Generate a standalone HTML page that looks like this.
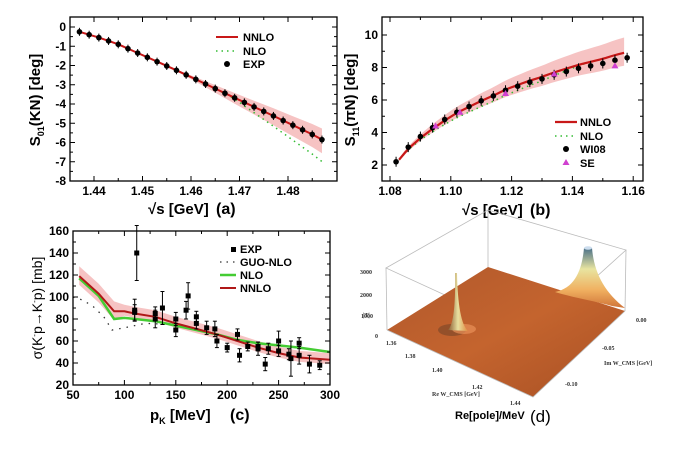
<!DOCTYPE html>
<html><head><meta charset="utf-8"><style>
html,body{margin:0;padding:0;background:#fff;}
svg{display:block;font-family:"Liberation Sans",Arial,sans-serif;font-weight:bold;}
</style></head><body>
<svg id="s" width="674" height="450" viewBox="0 0 674 450" xmlns="http://www.w3.org/2000/svg">
<defs>
<linearGradient id="pl" x1="0" y1="0" x2="1" y2="1">
<stop offset="0" stop-color="#b0582c"/><stop offset="0.5" stop-color="#c4642e"/><stop offset="1" stop-color="#a85024"/>
</linearGradient>
<linearGradient id="pk" x1="0" y1="0" x2="1" y2="0">
<stop offset="0" stop-color="#8a5a30"/><stop offset="0.5" stop-color="#e8e0a0"/><stop offset="1" stop-color="#e08a40"/>
</linearGradient>
<linearGradient id="pk2" x1="0" y1="0" x2="0" y2="1">
<stop offset="0" stop-color="#4a7088"/><stop offset="0.35" stop-color="#e8e4a0"/><stop offset="0.7" stop-color="#f0b060"/><stop offset="1" stop-color="#d07438"/>
</linearGradient>
</defs>
</svg>
<script>
const S=document.getElementById('s');const NS='http://www.w3.org/2000/svg';
function el(t,a,txt){const e=document.createElementNS(NS,t);for(const k in a)e.setAttribute(k,a[k]);if(txt!==undefined)e.textContent=txt;S.appendChild(e);return e;}
function interp(pts,x){for(let i=0;i<pts.length-1;i++){if(x>=pts[i][0]&&x<=pts[i+1][0]){const t=(x-pts[i][0])/(pts[i+1][0]-pts[i][0]);return pts[i][1]+t*(pts[i+1][1]-pts[i][1]);}}return x<pts[0][0]?pts[0][1]:pts[pts.length-1][1];}
function path(pts,fx,fy){return pts.map((p,i)=>(i?'L':'M')+fx(p[0]).toFixed(1)+' '+fy(p[1]).toFixed(1)).join(' ');}
function band(up,lo,fx,fy){let d=path(up,fx,fy);lo.slice().reverse().forEach(p=>d+=' L'+fx(p[0]).toFixed(1)+' '+fy(p[1]).toFixed(1));return d+'Z';}
function axes(L,T,R,B,xt,fx,yt,fy,xminor,yminor){
 el('rect',{x:L,y:T,width:R-L,height:B-T,fill:'none',stroke:'#000','stroke-width':1.3});
 xt.forEach(v=>{const x=fx(v);el('line',{x1:x,y1:B,x2:x,y2:B-5,stroke:'#000'});el('line',{x1:x,y1:T,x2:x,y2:T+5,stroke:'#000'});el('text',{x:x,y:B+14,'font-size':12,'text-anchor':'middle'},v.label||v);});
 xminor.forEach(v=>{const x=fx(v);el('line',{x1:x,y1:B,x2:x,y2:B-3,stroke:'#000'});el('line',{x1:x,y1:T,x2:x,y2:T+3,stroke:'#000'});});
 yt.forEach(v=>{const y=fy(v);el('line',{x1:L,y1:y,x2:L+5,y2:y,stroke:'#000'});el('line',{x1:R,y1:y,x2:R-5,y2:y,stroke:'#000'});el('text',{x:L-4,y:y+4,'font-size':12,'text-anchor':'end'},v);});
 yminor.forEach(v=>{const y=fy(v);el('line',{x1:L,y1:y,x2:L+3,y2:y,stroke:'#000'});el('line',{x1:R,y1:y,x2:R-3,y2:y,stroke:'#000'});});
}
// ---------- Panel a
(function(){
 const fx=v=>94+(v-1.44)*4850, fy=v=>27-v*19.25;
 const c=[[1.437,-0.25],[1.441,-0.55],[1.445,-0.9],[1.449,-1.35],[1.453,-1.8],[1.457,-2.25],[1.461,-2.72],[1.465,-3.2],[1.469,-3.68],[1.473,-4.15],[1.477,-4.62],[1.481,-5.1],[1.485,-5.58],[1.487,-5.85]];
 const up=c.map(p=>[p[0],p[1]+Math.max(0,(p[0]-1.455))*18]);
 const lo=c.map(p=>[p[0],p[1]-Math.max(0,(p[0]-1.455))*22]);
 el('path',{d:band(up,lo,fx,fy),fill:'#f4b8b8',opacity:0.85});
 const nlo=c.map(p=>[p[0],p[1]-Math.max(0,p[0]-1.468)*60]);
 el('path',{d:path(nlo,fx,fy),fill:'none',stroke:'#33bb33','stroke-width':1.5,'stroke-dasharray':'1.5 4'});
 el('path',{d:path(c,fx,fy),fill:'none',stroke:'#c81818','stroke-width':2});
 for(let x=1.437;x<1.4875;x+=0.002){const y=interp(c,x);el('line',{x1:fx(x),y1:fy(y)-4,x2:fx(x),y2:fy(y)+4,stroke:'#000'});el('circle',{cx:fx(x),cy:fy(y),r:2.8,fill:'#000'});}
 axes(70,17,337,181,[1.44,1.45,1.46,1.47,1.48],fx,[0,-1,-2,-3,-4,-5,-6,-7,-8],fy,[1.445,1.455,1.465,1.475,1.485],[-0.5,-1.5,-2.5,-3.5,-4.5,-5.5,-6.5,-7.5]);
 el('line',{x1:216,y1:37,x2:238,y2:37,stroke:'#c81818','stroke-width':2});el('text',{x:243,y:41,'font-size':11},'NNLO');
 el('line',{x1:216,y1:51,x2:238,y2:51,stroke:'#33bb33','stroke-width':1.5,'stroke-dasharray':'1.5 4'});el('text',{x:243,y:55,'font-size':11},'NLO');
 el('circle',{cx:227,cy:64,r:3,fill:'#000'});el('text',{x:243,y:68,'font-size':11},'EXP');
 el('text',{x:148,y:214,'font-size':15},'√s [GeV]');el('text',{x:216,y:214,'font-size':16},'(a)');
 const t=el('text',{x:0,y:0,'font-size':15,'text-anchor':'middle',transform:'translate(40,100) rotate(-90)'});t.innerHTML='S<tspan font-size="9" dy="4">01</tspan><tspan dy="-4">(KN) [deg]</tspan>';
})();
// ---------- Panel b
(function(){
 const fx=v=>390+(v-1.08)*3040, fy=v=>165-(v-2)*16.25;
 const w=[2.2,3.1,3.75,4.3,4.8,5.25,5.6,5.95,6.25,6.6,6.85,7.1,7.3,7.55,7.75,7.95,8.1,8.25,8.45,8.6];
 const wp=w.map((y,i)=>[1.082+i*0.004,y]);
 const c=[],n=[],up=[],lo=[];
 for(let x=1.083;x<=1.1581;x+=0.002){const u=(x-1.083)/0.075;let y=interp(wp,x);y+=0.45*Math.pow(u,1.5)-0.1;c.push([x,y]);n.push([x,y-0.35*Math.sin(Math.PI*Math.min(1,u*1.2))]);up.push([x,y+0.85*Math.pow(u,0.8)+0.1]);lo.push([x,y-0.7*Math.pow(u,0.9)-0.1]);}
 el('path',{d:band(up,lo,fx,fy),fill:'#f4b8b8',opacity:0.85});
 el('path',{d:path(n,fx,fy),fill:'none',stroke:'#33bb33','stroke-width':1.5,'stroke-dasharray':'1.5 4'});
 el('path',{d:path(c,fx,fy),fill:'none',stroke:'#c81818','stroke-width':2.2});
 wp.forEach(p=>{const x=p[0],y=p[1];el('line',{x1:fx(x),y1:fy(y)-5,x2:fx(x),y2:fy(y)+5,stroke:'#000'});el('circle',{cx:fx(x),cy:fy(y),r:2.8,fill:'#000'});});
 [[1.095,4.4],[1.103,5.25],[1.118,6.4],[1.134,7.6],[1.154,8.1]].forEach(p=>{const x=fx(p[0]),y=fy(p[1]);el('path',{d:`M${x} ${y-3.5}L${x+3.5} ${y+2.5}L${x-3.5} ${y+2.5}Z`,fill:'#d040d0'});});
 axes(382,17,643,181,[{v:1.08,label:'1.08'},{v:1.10,label:'1.10'},{v:1.12,label:'1.12'},{v:1.14,label:'1.14'},{v:1.16,label:'1.16'}].map(o=>{const n=new Number(o.v);n.label=o.label;return n;}),fx,[2,4,6,8,10],fy,[1.09,1.11,1.13,1.15],[3,5,7,9]);
 el('line',{x1:555,y1:122,x2:577,y2:122,stroke:'#c81818','stroke-width':2.2});el('text',{x:580,y:126,'font-size':11},'NNLO');
 el('line',{x1:555,y1:136,x2:577,y2:136,stroke:'#33bb33','stroke-width':1.5,'stroke-dasharray':'1.5 4'});el('text',{x:580,y:140,'font-size':11},'NLO');
 el('circle',{cx:566,cy:149,r:3,fill:'#000'});el('text',{x:580,y:153,'font-size':11},'WI08');
 el('path',{d:'M566 159L569.5 165L562.5 165Z',fill:'#d040d0'});el('text',{x:580,y:167,'font-size':11},'SE');
 el('text',{x:462,y:215,'font-size':15},'√s [GeV]');el('text',{x:530,y:215,'font-size':16},'(b)');
 const t=el('text',{x:0,y:0,'font-size':15,'text-anchor':'middle',transform:'translate(355,100) rotate(-90)'});t.innerHTML='S<tspan font-size="9" dy="4">11</tspan><tspan dy="-4">(πN) [deg]</tspan>';
})();
// ---------- Panel c
(function(){
 const fx=v=>73+(v-50)*1.028, fy=v=>385-(v-20)*1.1;
 const nn=[[56,119],[75,103],[90,87],[100,87],[110,85],[130,82],[150,76],[170,71],[190,66],[210,60],[230,54],[250,49],[270,45],[300,43]];
 const nl=[[56,117],[75,101],[90,80],[100,81],[130,78],[150,74],[170,70],[190,66],[210,61],[230,58],[250,56],[270,54],[300,50]];
 const up=nn.map(p=>[p[0],p[1]+(p[0]<100?9:6)]),lo=nn.map(p=>[p[0],p[1]-(p[0]<100?8:4)]);
 el('path',{d:band(up,lo,fx,fy),fill:'#f4b8b8',opacity:0.85});
 el('path',{d:path([[50,100],[60,97],[70,91],[80,82],[88,70],[100,72],[120,76],[150,75],[190,66]],fx,fy),fill:'none',stroke:'#333','stroke-width':1.3,'stroke-dasharray':'1.5 6'});
 el('path',{d:path(nl,fx,fy),fill:'none',stroke:'#44cc33','stroke-width':2.5});
 el('path',{d:path(nn,fx,fy),fill:'none',stroke:'#b01818','stroke-width':2});
 [[110,88,10],[110,86,7],[112,140,25],[130,85,6],[130,80,8],[137,90,15],[150,80,6],[150,70,6],[160,88,8],[162,101,12],[170,82,5],[170,76,5],[180,72,6],[188,71,7],[190,60,6],[200,54,4],[210,66,5],[212,47,6],[220,55,4],[230,55,4],[230,53,6],[237,39,6],[240,53,5],[250,60,9],[250,51,5],[260,48,5],[262,44,16],[270,58,5],[270,47,8],[280,39,8],[290,38,4]].forEach(p=>{const x=fx(p[0]);el('line',{x1:x,y1:fy(p[1]+p[2]),x2:x,y2:fy(p[1]-p[2]),stroke:'#000'});el('line',{x1:x-2,y1:fy(p[1]+p[2]),x2:x+2,y2:fy(p[1]+p[2]),stroke:'#000'});el('line',{x1:x-2,y1:fy(p[1]-p[2]),x2:x+2,y2:fy(p[1]-p[2]),stroke:'#000'});el('rect',{x:x-2.5,y:fy(p[1])-2.5,width:5,height:5,fill:'#000'});});
 axes(73,231,330,385,[50,100,150,200,250,300],fx,[20,40,60,80,100,120,140,160],fy,[75,125,175,225,275],[30,50,70,90,110,130,150]);
 el('rect',{x:231,y:247,width:5,height:5,fill:'#000'});el('text',{x:240,y:253,'font-size':11},'EXP');
 el('line',{x1:220,y1:262,x2:236,y2:262,stroke:'#333','stroke-width':1.3,'stroke-dasharray':'1.5 5'});el('text',{x:240,y:266,'font-size':11},'GUO-NLO');
 el('line',{x1:220,y1:275,x2:236,y2:275,stroke:'#44cc33','stroke-width':2.5});el('text',{x:240,y:279,'font-size':11},'NLO');
 el('line',{x1:220,y1:288,x2:236,y2:288,stroke:'#b01818','stroke-width':2});el('text',{x:240,y:292,'font-size':11},'NNLO');
 const t=el('text',{x:150,y:420,'font-size':15},'');t.innerHTML='p<tspan font-size="9" dy="4">K</tspan><tspan dy="-4"> [MeV]</tspan>';
 el('text',{x:230,y:420,'font-size':16},'(c)');
 const y=el('text',{x:0,y:0,'font-size':14,'text-anchor':'middle','font-weight':'normal',transform:'translate(42,308) rotate(-90)'});y.innerHTML='σ(K<tspan font-size="8" dy="-5">-</tspan><tspan dy="5">p→K</tspan><tspan font-size="8" dy="-5">-</tspan><tspan dy="5">p) [mb]</tspan>';
})();
// ---------- Panel d
(function(){
 const g='#bbb';
 [[387,330,386,268],[488,267,488,210],[625,311,626,250],[533,397,532,335]].forEach(l=>el('line',{x1:l[0],y1:l[1],x2:l[2],y2:l[3],stroke:g,'stroke-width':0.8}));
 el('path',{d:'M386 268L488 210L626 250L532 335Z',fill:'none',stroke:g,'stroke-width':0.8});
 el('path',{d:'M387 330L488 267L625 311L533 397Z',fill:'url(#pl)'});
 el('path',{d:'M387 330L533 397L625 311',fill:'none',stroke:g,'stroke-width':0.8});
 el('ellipse',{cx:452,cy:330,rx:14,ry:6,fill:'#6a4028',opacity:0.5});
 el('ellipse',{cx:464,cy:329,rx:12,ry:5,fill:'#e89058',opacity:0.7});
 el('path',{d:'M448 330 Q456 322 455 273 L457 273 Q458 322 468 331 Z',fill:'url(#pk)'});
 el('path',{d:'M555 292 C575 288 582 270 584 248 L592 248 C594 272 604 292 625 308 L612 306 C590 300 575 298 555 292Z',fill:'url(#pk2)'});
 el('ellipse',{cx:588,cy:248,rx:4,ry:1.8,fill:'#cde'});
 const sm={'font-size':6,fill:'#333','font-family':'Liberation Serif'};
 [['3000',372,274],['2000',372,297],['1000',373,318],['0',378,338]].forEach(a=>el('text',Object.assign({x:a[1],y:a[2],'text-anchor':'end'},sm),a[0]));
 el('text',Object.assign({x:363,y:317},sm),'|T|');
 [['1.36',386,345],['1.38',405,358],['1.40',432,372],['1.42',472,389],['1.44',510,405]].forEach(a=>el('text',Object.assign({x:a[1],y:a[2]},sm),a[0]));
 [['0.00',636,322],['-0.05',602,350],['-0.10',565,386]].forEach(a=>el('text',Object.assign({x:a[1],y:a[2]},sm),a[0]));
 el('text',Object.assign({x:432,y:396},sm),'Re W_CMS [GeV]');
 el('text',Object.assign({x:604,y:365},sm),'Im W_CMS [GeV]');
 el('text',{x:455,y:419,'font-size':11},'Re[pole]/MeV');
 el('text',{x:530,y:422,'font-size':17,'font-weight':'normal'},'(d)');
})();
</script>
</body></html>
